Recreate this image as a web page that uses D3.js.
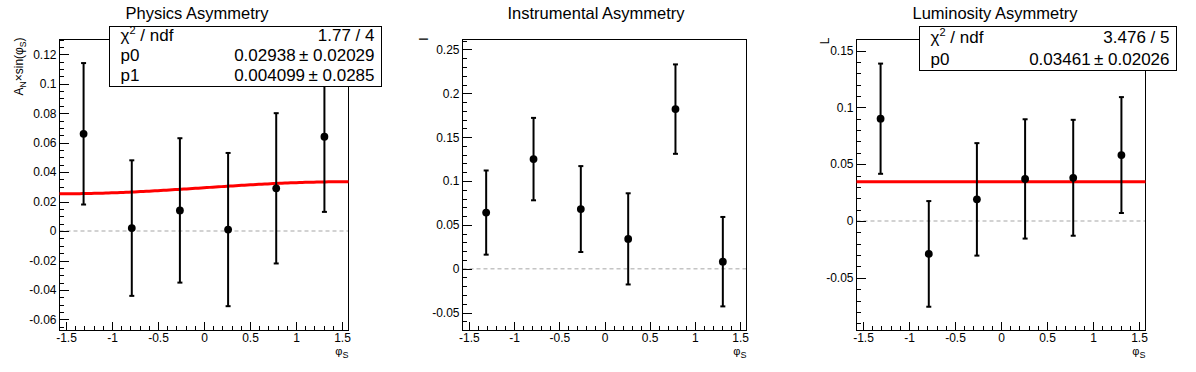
<!DOCTYPE html>
<html>
<head>
<meta charset="utf-8">
<script src="https://cdn.jsdelivr.net/npm/d3@7"></script>
<style>
  body { margin: 0; background: #fff; }
  text { font-family: "Liberation Sans", Arial, Helvetica, sans-serif; fill: #000; }
</style>
</head>
<body>
<div id="chart"></div>
<script>
// phi_S bin centres (6 bins over -pi/2 .. pi/2)
var phiS = [-1.309, -0.785, -0.262, 0.262, 0.785, 1.309];

var physVals = [0.066, 0.002, 0.014, 0.001, 0.029, 0.064];
var physErrs = [0.048, 0.046, 0.049, 0.052, 0.051, 0.051];
var instVals = [0.064, 0.125, 0.068, 0.034, 0.182, 0.008];
var instErrs = [0.048, 0.047, 0.049, 0.052, 0.051, 0.051];
var lumiVals = [0.090, -0.029, 0.019, 0.037, 0.038, 0.058];
var lumiErrs = [0.0485, 0.0465, 0.0495, 0.0525, 0.051, 0.051];

// fit results (stat boxes)
var physChi2 = "1.77 / 4";
var physParNames = ["p0", "p1"];
var physPars = ["0.02938", "0.004099"];
var physParErrs = ["0.02029", "0.0285"];
var lumiChi2 = "3.476 / 5";
var lumiParNames = ["p0"];
var lumiPars = ["0.03461"];
var lumiParErrs = ["0.02026"];

var xTicks = [-1.5, -1, -0.5, 0, 0.5, 1, 1.5];
var physTicks = [-0.06, -0.04, -0.02, 0, 0.02, 0.04, 0.06, 0.08, 0.1, 0.12];
var instTicks = [-0.05, 0, 0.05, 0.1, 0.15, 0.2, 0.25];
var lumiTicks = [-0.05, 0, 0.05, 0.1, 0.15];

var W = 1196, H = 372;
var frameTop = 39.5, frameBottom = 330.5;

var svg = d3.select("#chart").append("svg")
  .attr("width", W).attr("height", H)
  .style("display", "block");

var fmt = function (d) { return String(+d.toFixed(4)); };

function minorTicks(domain, step) {
  var k0 = Math.ceil(domain[0] / step - 1e-9), k1 = Math.floor(domain[1] / step + 1e-9);
  return d3.range(k0, k1 + 1).map(function (k) { return +(k * step).toFixed(5); });
}

var panels = [
  {
    title: "Physics Asymmetry", titleX: 197,
    vals: physVals, errs: physErrs, yDomain: [-0.0675, 0.130], ticks: physTicks, minor: 0.005,
    left: 59.5, right: 348.5,
    fit: function (x) { return +physPars[0] + (+physPars[1]) * Math.sin(x); },
    box: { x: 109.5, y: 26.5, w: 272, h: 59.5 }, chi2: physChi2, names: physParNames, pars: physPars, perrs: physParErrs,
    ytitle: "A", ytitleX: 23
  },
  {
    title: "Instrumental Asymmetry", titleX: 596,
    vals: instVals, errs: instErrs, yDomain: [-0.0705, 0.2614], ticks: instTicks, minor: 0.01,
    left: 462.5, right: 746.5,
    fit: null, ytitle: "I", ytitleX: 428
  },
  {
    title: "Luminosity Asymmetry", titleX: 995,
    vals: lumiVals, errs: lumiErrs, yDomain: [-0.0964, 0.1597], ticks: lumiTicks, minor: 0.01,
    left: 856.5, right: 1145.5,
    fit: function (x) { return +lumiPars[0]; },
    box: { x: 919.5, y: 26.5, w: 257, h: 43.5 }, chi2: lumiChi2, names: lumiParNames, pars: lumiPars, perrs: lumiParErrs,
    ytitle: "L", ytitleX: 829
  }
];

panels.forEach(function (p) {
  var g = svg.append("g");

  var x = d3.scaleLinear().domain([-1.5708, 1.5708]).range([p.left, p.right]);
  var y = d3.scaleLinear().domain(p.yDomain).range([frameBottom, frameTop]);

  // title
  g.append("text")
    .attr("x", p.titleX).attr("y", 19)
    .attr("text-anchor", "middle")
    .style("font-size", "16.5px")
    .text(p.title);

  // zero line
  g.append("line")
    .attr("x1", p.left).attr("x2", p.right)
    .attr("y1", y(0)).attr("y2", y(0))
    .attr("stroke", "#c4c4c4").attr("stroke-width", 1.5)
    .attr("stroke-dasharray", "4,3");

  // axes (ticks inside the frame)
  g.append("g").attr("transform", "translate(" + p.left + ",0)")
    .call(d3.axisLeft(y).tickValues(p.ticks).tickSize(-9).tickPadding(3).tickFormat(fmt));
  g.append("g").attr("transform", "translate(" + p.left + ",0)")
    .call(d3.axisLeft(y).tickValues(minorTicks(p.yDomain, p.minor)).tickSize(-4.5).tickFormat(""));
  g.append("g").attr("transform", "translate(0," + frameBottom + ")")
    .call(d3.axisBottom(x).tickValues(xTicks).tickSize(-9).tickPadding(3).tickFormat(fmt));
  g.append("g").attr("transform", "translate(0," + frameBottom + ")")
    .call(d3.axisBottom(x).tickValues(minorTicks([-1.5708, 1.5708], 0.1)).tickSize(-4.5).tickFormat(""));

  g.selectAll(".domain").remove();
  g.selectAll(".tick line").attr("stroke", "#000").attr("shape-rendering", "crispEdges");
  g.selectAll(".tick text").style("font-size", "12px").attr("fill", "#000");

  // frame
  g.append("rect")
    .attr("x", p.left).attr("y", frameTop)
    .attr("width", p.right - p.left).attr("height", frameBottom - frameTop)
    .attr("fill", "none").attr("stroke", "#000").attr("stroke-width", 1)
    .attr("shape-rendering", "crispEdges");

  // fit curve
  if (p.fit) {
    var xs = d3.range(0, 101).map(function (i) { return -1.5708 + i * 3.1416 / 100; });
    g.append("path")
      .datum(xs)
      .attr("d", d3.line().x(function (d) { return x(d); }).y(function (d) { return y(p.fit(d)); }))
      .attr("fill", "none").attr("stroke", "#ff0000").attr("stroke-width", 3);
  }

  // error bars + markers
  var pts = g.append("g").selectAll("g")
    .data(phiS.map(function (d, i) { return { x: d, v: p.vals[i], e: p.errs[i] }; }))
    .enter().append("g");
  pts.append("line")
    .attr("x1", function (d) { return x(d.x); }).attr("x2", function (d) { return x(d.x); })
    .attr("y1", function (d) { return y(d.v + d.e); }).attr("y2", function (d) { return y(d.v - d.e); })
    .attr("stroke", "#000").attr("stroke-width", 2);
  [1, -1].forEach(function (s) {
    pts.append("line")
      .attr("x1", function (d) { return x(d.x) - 2.5; }).attr("x2", function (d) { return x(d.x) + 2.5; })
      .attr("y1", function (d) { return y(d.v + s * d.e); }).attr("y2", function (d) { return y(d.v + s * d.e); })
      .attr("stroke", "#000").attr("stroke-width", 2);
  });
  pts.append("circle")
    .attr("cx", function (d) { return x(d.x); }).attr("cy", function (d) { return y(d.v); })
    .attr("r", 3.9).attr("fill", "#000");

  // y axis title (rotated, aligned to top)
  var yt = g.append("text")
    .attr("transform", "translate(" + p.ytitleX + "," + (frameTop - 2) + ") rotate(-90)")
    .attr("text-anchor", "end")
    .style("font-size", "12px");
  yt.append("tspan").text(p.ytitle);
  if (p.ytitle === "A") {
    yt.append("tspan").attr("dy", 3).style("font-size", "8.5px").text("N");
    yt.append("tspan").attr("dy", -3).text("\u00d7sin(\u03c6");
    yt.append("tspan").attr("dy", 3).style("font-size", "8.5px").text("S");
    yt.append("tspan").attr("dy", -3).text(")");
  }

  // x axis title
  var xt = g.append("text")
    .attr("x", p.right).attr("y", 355)
    .attr("text-anchor", "end")
    .style("font-size", "11px");
  xt.append("tspan").text("\u03c6");
  xt.append("tspan").attr("dy", 3).style("font-size", "9px").text("S");

  // stats box
  if (p.box) {
    var b = p.box;
    g.append("rect")
      .attr("x", b.x).attr("y", b.y).attr("width", b.w).attr("height", b.h)
      .attr("fill", "#fff").attr("stroke", "#000").attr("stroke-width", 1)
      .attr("shape-rendering", "crispEdges");
    var rowH = b.h / (p.names.length + 1);
    var rows = [["\u03c7", p.chi2]].concat(p.names.map(function (n, i) {
      return [n, p.pars[i] + "\u2009\u00b1 " + p.perrs[i]];
    }));
    rows.forEach(function (r, i) {
      var by = b.y + rowH * (i + 1) - 5;
      var lt = g.append("text").attr("x", b.x + 11).attr("y", by).style("font-size", "17px");
      if (i === 0) {
        lt.append("tspan").text("\u03c7");
        lt.append("tspan").attr("dy", -7).style("font-size", "11px").text("2");
        lt.append("tspan").attr("dy", 7).text(" / ndf");
      } else {
        lt.text(r[0]);
      }
      g.append("text").attr("x", b.x + b.w - 7).attr("y", by)
        .attr("text-anchor", "end").style("font-size", "17px").text(r[1]);
    });
  }
});
</script>
</body>
</html>
